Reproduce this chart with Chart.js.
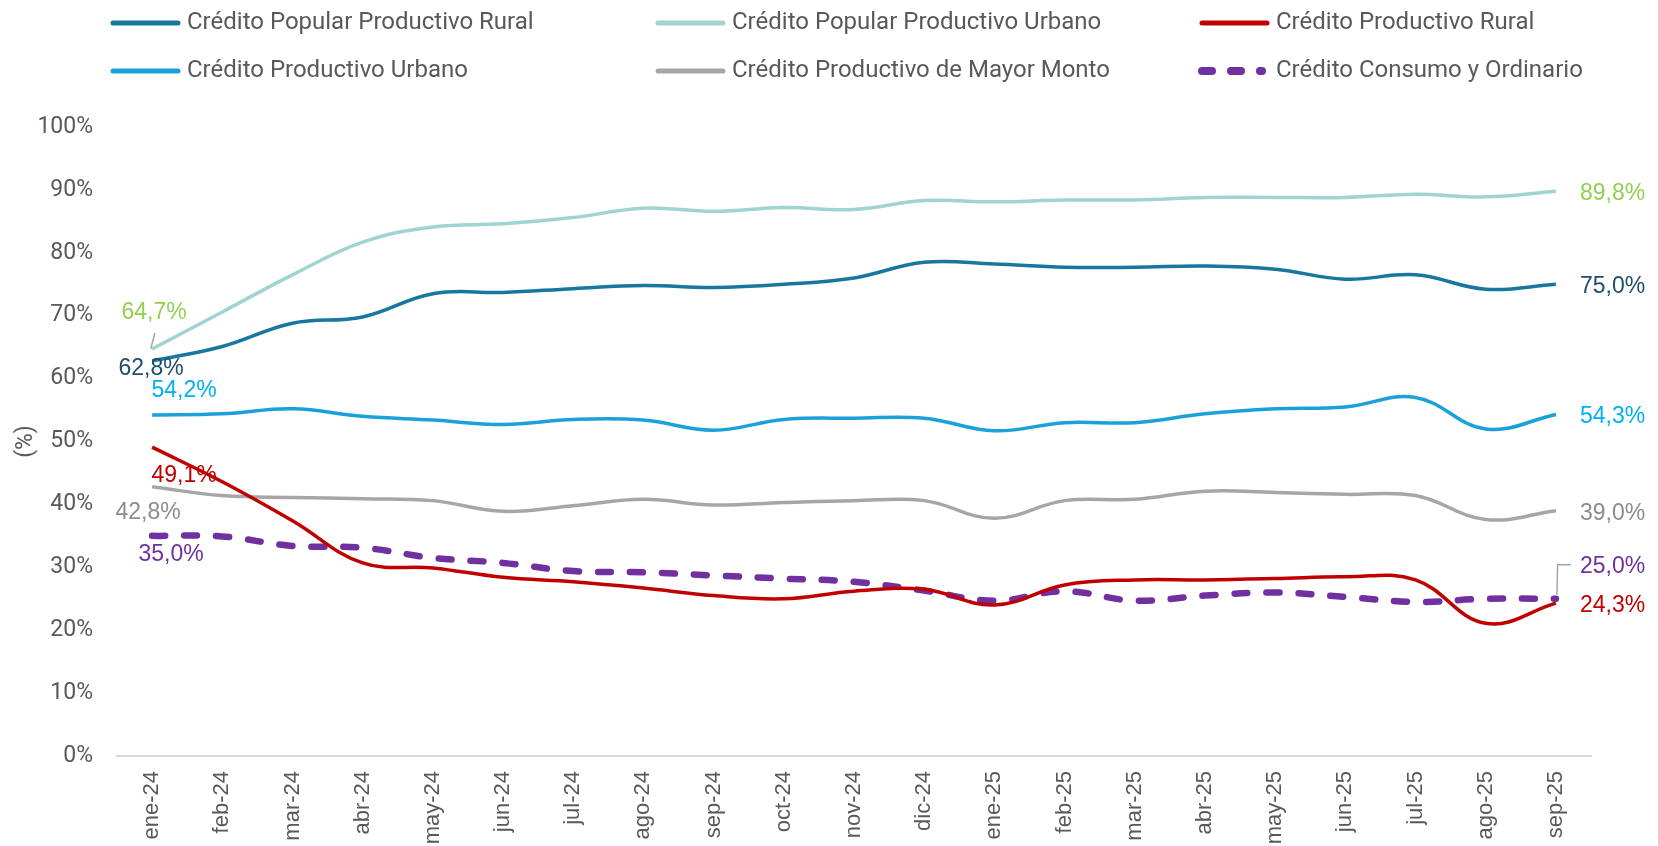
<!DOCTYPE html>
<html>
<head>
<meta charset="utf-8">
<script src="https://cdn.jsdelivr.net/npm/chart.js@4.4.0/dist/chart.umd.min.js"></script>
<style>
  html, body { margin: 0; padding: 0; background: #fff; }
</style>
</head>
<body>
<canvas id="grafico" width="1658" height="846"></canvas>
<script>
const meses = ['ene-24', 'feb-24', 'mar-24', 'abr-24', 'may-24', 'jun-24', 'jul-24', 'ago-24', 'sep-24', 'oct-24', 'nov-24', 'dic-24',
               'ene-25', 'feb-25', 'mar-25', 'abr-25', 'may-25', 'jun-25', 'jul-25', 'ago-25', 'sep-25'];

const popularRural   = [62.8, 65.1, 68.8, 69.8, 73.5, 73.7, 74.3, 74.8, 74.5, 75.0, 76.0, 78.5, 78.2, 77.7, 77.7, 77.9, 77.4, 75.8, 76.5, 74.2, 75.0];
const popularUrbano  = [64.7, 70.6, 76.5, 81.7, 84.1, 84.6, 85.6, 87.1, 86.6, 87.2, 86.9, 88.3, 88.1, 88.4, 88.4, 88.8, 88.8, 88.8, 89.3, 88.9, 89.8];
const productivoRural  = [49.1, 43.6, 37.4, 30.7, 29.9, 28.4, 27.7, 26.7, 25.5, 25.0, 26.2, 26.5, 24.0, 27.2, 28.0, 28.0, 28.2, 28.5, 28.0, 21.1, 24.3];
const productivoUrbano = [54.2, 54.4, 55.2, 54.0, 53.4, 52.7, 53.5, 53.4, 51.8, 53.5, 53.7, 53.7, 51.7, 53.0, 53.0, 54.4, 55.2, 55.5, 57.0, 52.0, 54.3];
const mayorMonto     = [42.8, 41.4, 41.1, 40.9, 40.6, 38.9, 39.8, 40.8, 39.9, 40.3, 40.6, 40.6, 37.8, 40.6, 40.8, 42.1, 41.9, 41.6, 41.4, 37.6, 39.0];
const consumo        = [35.0, 34.9, 33.4, 33.1, 31.5, 30.7, 29.4, 29.2, 28.7, 28.2, 27.7, 26.3, 24.7, 26.2, 24.7, 25.5, 26.0, 25.3, 24.5, 25.0, 25.0];

const ticksY = [0, 10, 20, 30, 40, 50, 60, 70, 80, 90, 100];

const gris = '#595959';

// etiquetas del primer y último valor: [dx, dy, alineación]
const etiquetas = [
  { color: '#1d4e6b', ini: [-1, 8, 'center'],  fin: [24, 2] },
  { color: '#92d050', ini: [2, -36, 'center'], fin: [24, 2], guia: 'ini' },
  { color: '#c00000', ini: [32, 28, 'center'], fin: [24, 3] },
  { color: '#00b0f0', ini: [32, -24, 'center'], fin: [24, 2] },
  { color: '#8c8c8c', ini: [-4, 26, 'center'], fin: [24, 3] },
  { color: '#7030a0', ini: [19, 19, 'center'], fin: [24, -32], guia: 'fin' }
];

const fmt = v => v.toFixed(1).replace('.', ',') + '%';

const pluginEtiquetas = {
  id: 'etiquetas',
  afterDatasetsDraw(chart) {
    const ctx = chart.ctx;
    ctx.save();
    ctx.font = '23px "Liberation Sans", Arial, sans-serif';
    ctx.textBaseline = 'middle';
    chart.data.datasets.forEach((ds, i) => {
      const meta = chart.getDatasetMeta(i);
      const cfg = etiquetas[i];
      const p0 = meta.data[0];
      const pN = meta.data[meta.data.length - 1];
      ctx.fillStyle = cfg.color;
      ctx.textAlign = cfg.ini[2];
      ctx.fillText(fmt(ds.data[0]), p0.x + cfg.ini[0], p0.y + cfg.ini[1]);
      ctx.textAlign = 'left';
      ctx.fillText(fmt(ds.data[ds.data.length - 1]), pN.x + cfg.fin[0], pN.y + cfg.fin[1]);

      ctx.strokeStyle = '#a6a6a6';
      ctx.lineWidth = 1.5;
      if (cfg.guia === 'ini') {
        ctx.beginPath();
        ctx.moveTo(p0.x + 2.7, p0.y - 16);
        ctx.lineTo(p0.x - 1.3, p0.y);
        ctx.stroke();
      }
      if (cfg.guia === 'fin') {
        ctx.beginPath();
        ctx.moveTo(pN.x + 1, pN.y - 4);
        ctx.lineTo(pN.x + 1.7, pN.y - 34);
        ctx.lineTo(pN.x + 15, pN.y - 34);
        ctx.stroke();
      }
    });
    ctx.restore();
  }
};

const pluginLeyenda = {
  id: 'leyenda',
  afterDraw(chart) {
    const ctx = chart.ctx;
    const cols = [111, 656, 1200];
    const filas = [23, 71];
    ctx.save();
    ctx.font = '24px Roboto, sans-serif';
    ctx.textBaseline = 'middle';
    ctx.textAlign = 'left';
    chart.data.datasets.forEach((ds, i) => {
      const x = cols[i % 3];
      const y = filas[Math.floor(i / 3)];
      ctx.strokeStyle = ds.borderColor;
      ctx.lineCap = 'round';
      if (ds.borderDash) {
        ctx.lineWidth = 8;
        ctx.setLineDash([10, 19]);
        ctx.beginPath();
        ctx.moveTo(x + 2, y);
        ctx.lineTo(x + 62, y);
        ctx.stroke();
        ctx.setLineDash([]);
      } else {
        ctx.lineWidth = 5;
        ctx.beginPath();
        ctx.moveTo(x + 2, y);
        ctx.lineTo(x + 67, y);
        ctx.stroke();
      }
      ctx.fillStyle = gris;
      ctx.fillText(ds.label, x + 76, y);
    });
    ctx.restore();
  }
};

const serie = (label, data, color, extra) => Object.assign({
  label: label,
  data: data,
  borderColor: color,
  backgroundColor: color,
  borderWidth: 3.5,
  pointRadius: 0,
  tension: 0.4,
  fill: false
}, extra || {});

new Chart(document.getElementById('grafico'), {
  type: 'line',
  data: {
    labels: meses,
    datasets: [
      serie('Crédito Popular Productivo Rural', popularRural, '#18779f'),
      serie('Crédito Popular Productivo Urbano', popularUrbano, '#a0d4d2'),
      serie('Crédito Productivo Rural', productivoRural, '#c00000'),
      serie('Crédito Productivo Urbano', productivoUrbano, '#1ba1d9'),
      serie('Crédito Productivo de Mayor Monto', mayorMonto, '#a6a6a6'),
      serie('Crédito Consumo y Ordinario', consumo, '#7030a0', { borderWidth: 6.5, borderDash: [13, 19], borderCapStyle: 'round' })
    ]
  },
  options: {
    responsive: false,
    animation: false,
    layout: { padding: { top: 127, right: 67, left: 0, bottom: 0 } },
    plugins: {
      legend: { display: false },
      tooltip: { enabled: false }
    },
    scales: {
      x: {
        offset: true,
        grid: { display: false, drawTicks: false },
        border: { display: true, color: '#d9d9d9', width: 2 },
        ticks: {
          color: gris,
          font: { family: '"Liberation Sans", Arial, sans-serif', size: 22 },
          minRotation: 90,
          maxRotation: 90,
          padding: 15,
          autoSkip: false
        },
        afterFit(scale) { scale.height = 90; }
      },
      y: {
        min: 0,
        max: 100,
        afterBuildTicks(scale) { scale.ticks = ticksY.map(v => ({ value: v })); },
        grid: { display: false, drawTicks: false },
        border: { display: false },
        ticks: {
          color: gris,
          font: { family: 'Roboto, sans-serif', size: 23 },
          padding: 24,
          callback: v => v + '%'
        },
        title: {
          display: true,
          text: '(%)',
          color: gris,
          font: { family: 'Roboto, sans-serif', size: 23 },
          padding: { top: 12, bottom: 0 }
        },
        afterFit(scale) { scale.width = 117; }
      }
    }
  },
  plugins: [pluginEtiquetas, pluginLeyenda]
});
</script>
</body>
</html>
